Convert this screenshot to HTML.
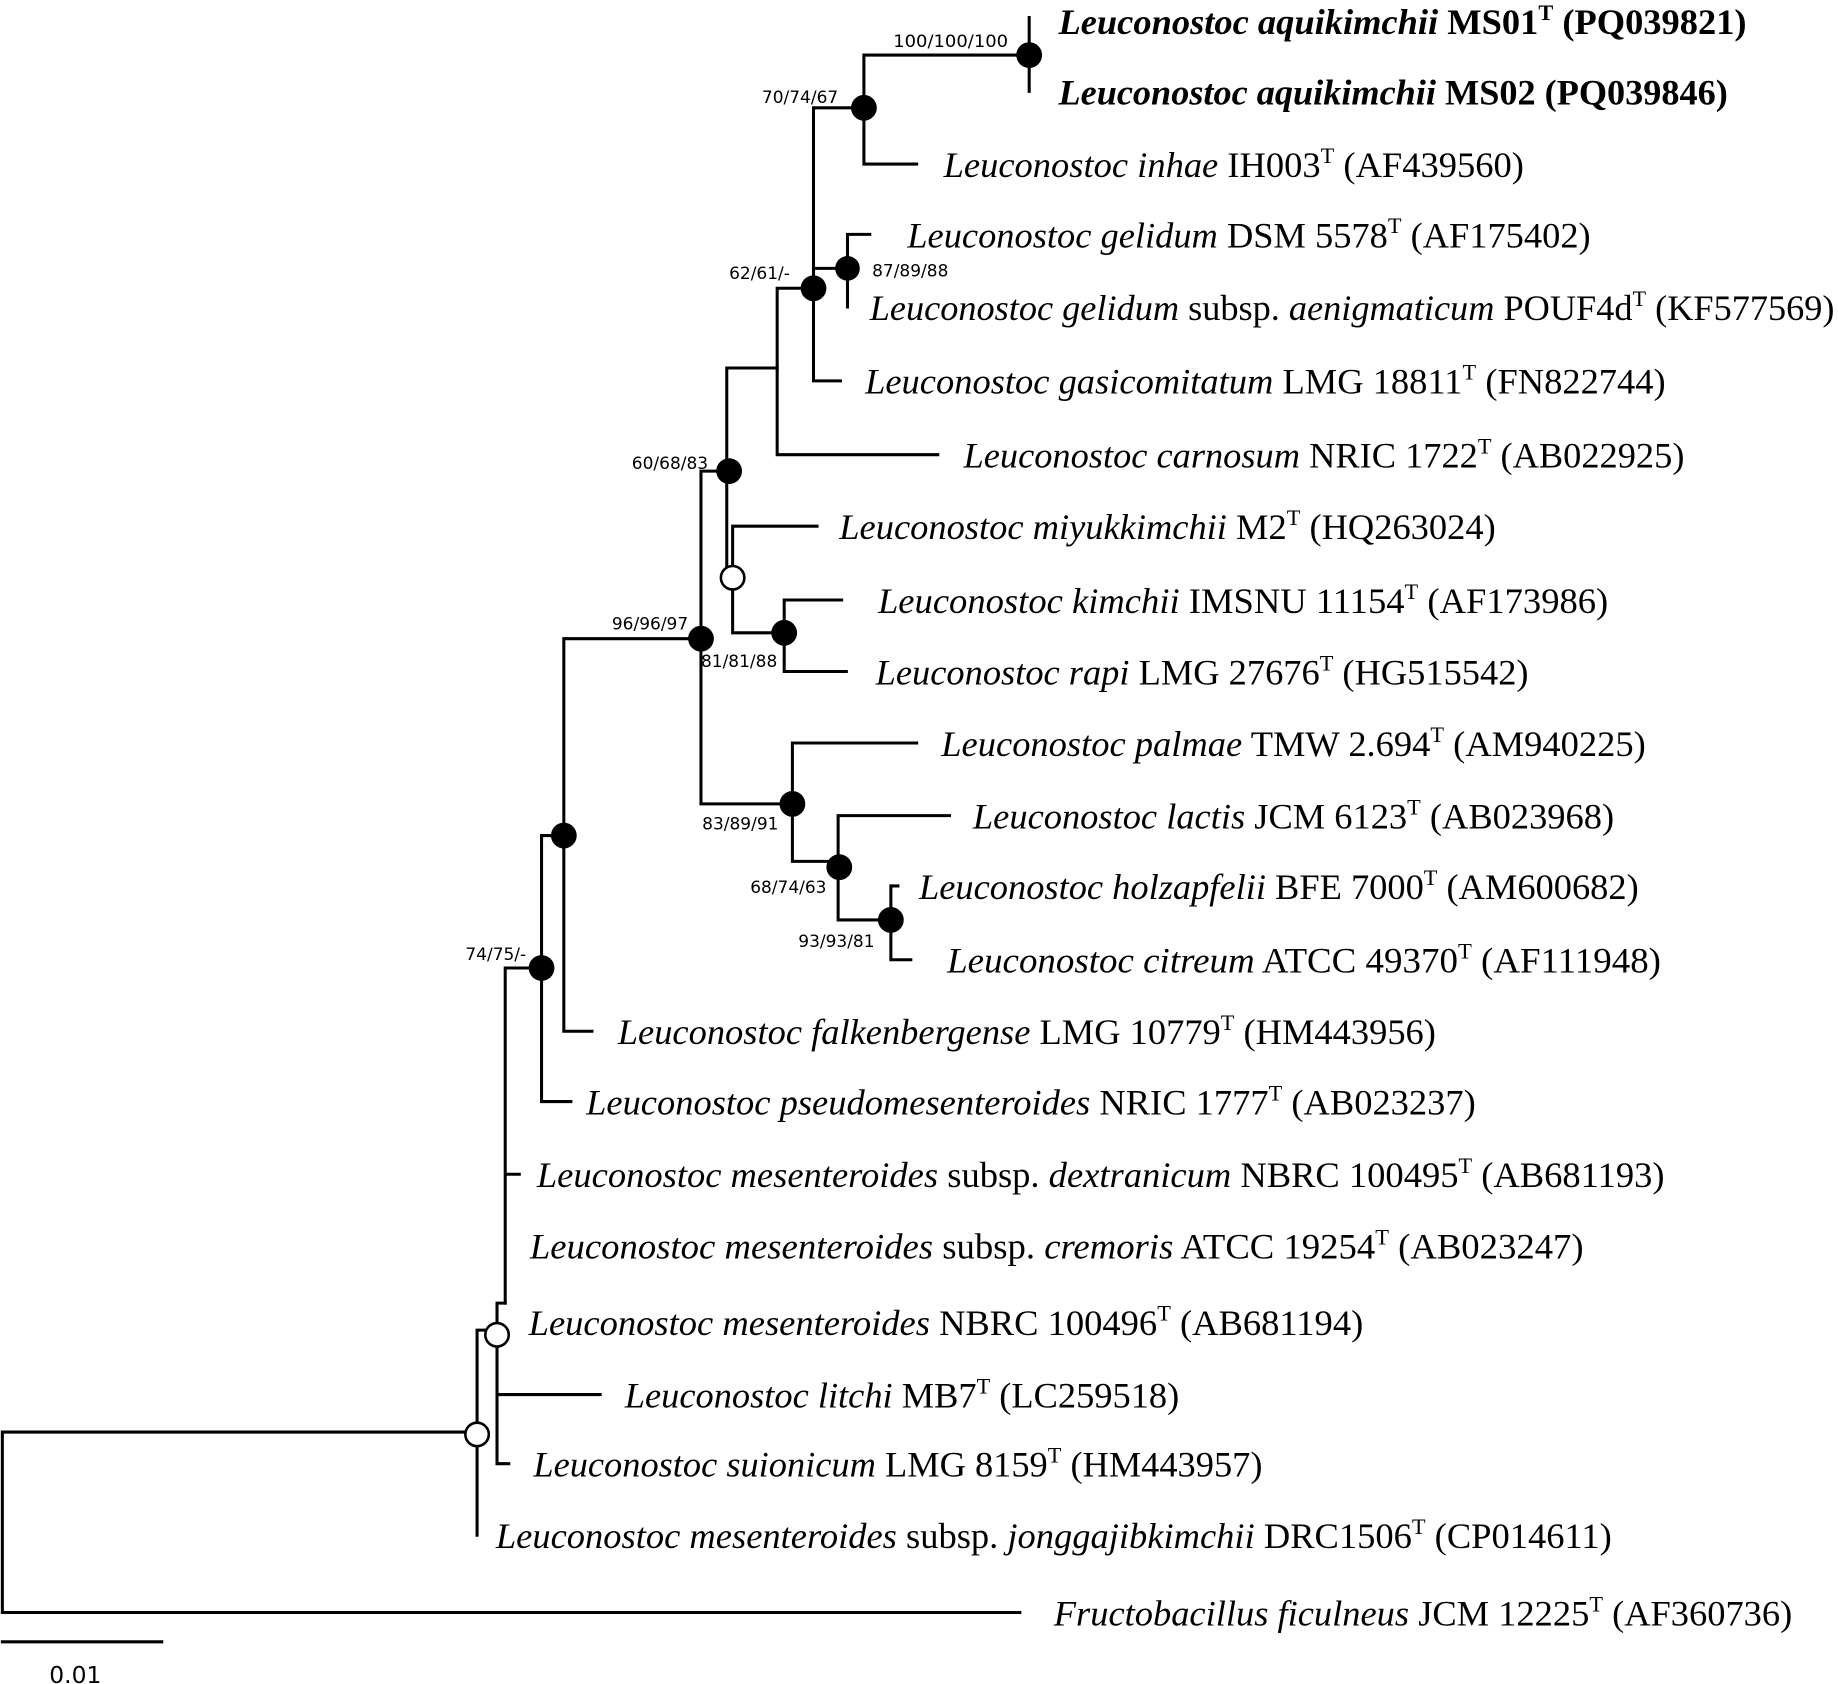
<!DOCTYPE html>
<html><head><meta charset="utf-8"><style>
html,body{margin:0;padding:0;background:#fff;}
svg{display:block}
.t{font-family:"Liberation Serif",serif;font-size:31px;fill:#000}
.b{font-weight:bold}
.s{font-family:"DejaVu Sans","Liberation Sans",sans-serif;font-size:14.5px;fill:#000}
</style></head><body>
<svg width="1838" height="1684" viewBox="0 0 1568 1437" preserveAspectRatio="none" xmlns="http://www.w3.org/2000/svg">
<g stroke="#000" stroke-width="2.6" fill="none" stroke-linecap="square">
<path d="M2 1222V1376M2 1222H407M2 1376H870"/>
<path d="M407 1135V1310M407 1135H424"/>
<path d="M424 1112V1249M424 1190H512M424 1249H434M424 1112H431"/>
<path d="M431 826V1112M431 1002H443M431 826H462"/>
<path d="M462 713V940M462 940H487M462 713H481"/>
<path d="M481 545V880M481 880H505M481 545H598"/>
<path d="M598 402V686M598 402H620M598 686H676"/>
<path d="M620 314V493M620 314H663M620 493H625"/>
<path d="M663 246V388M663 388H800M663 246H694"/>
<path d="M694 92V325M694 325H717M694 92H737M694 229H723"/>
<path d="M723 200V262M723 200H742"/>
<path d="M737 47V140M737 140H782M737 47H878"/>
<path d="M878 15V78"/>
<path d="M625 449V540M625 449H697M625 540H669"/>
<path d="M669 512V573M669 512H718M669 573H722"/>
<path d="M676 634V735M676 634H782M676 735H715"/>
<path d="M715 696V785M715 696H810M715 785H760"/>
<path d="M760 756V819M760 756H766M760 819H777"/>
<path d="M2 1401H138"/>
</g>
<g fill="#000">
<circle cx="878" cy="47" r="11"/>
<circle cx="737" cy="92" r="11"/>
<circle cx="723" cy="229" r="10.5"/>
<circle cx="694" cy="246" r="11"/>
<circle cx="622" cy="402" r="11"/>
<circle cx="598" cy="545" r="11"/>
<circle cx="669" cy="540" r="11"/>
<circle cx="676" cy="686" r="11"/>
<circle cx="716" cy="740" r="11"/>
<circle cx="760" cy="785" r="11"/>
<circle cx="481" cy="713" r="11"/>
<circle cx="462" cy="826" r="11"/>
</g>
<g fill="#fff" stroke="#000" stroke-width="2.2">
<circle cx="625" cy="493" r="10"/>
<circle cx="424" cy="1139" r="10"/>
<circle cx="407" cy="1224" r="10"/>
</g>
<g class="s">
<text x="762" y="40" textLength="98" lengthAdjust="spacingAndGlyphs">100/100/100</text>
<text x="650" y="88">70/74/67</text>
<text x="744" y="236">87/89/88</text>
<text x="622" y="238">62/61/-</text>
<text x="539" y="400">60/68/83</text>
<text x="522" y="537">96/96/97</text>
<text x="598" y="569">81/81/88</text>
<text x="599" y="708">83/89/91</text>
<text x="640" y="762">68/74/63</text>
<text x="681" y="808">93/93/81</text>
<text x="397" y="819">74/75/-</text>
<text x="42" y="1436" style="font-size:20px">0.01</text>
</g>
<g class="t">
<text class="b" x="903" y="29" textLength="587" lengthAdjust="spacingAndGlyphs"><tspan font-style="italic">Leuconostoc aquikimchii</tspan> MS01<tspan font-size="19" dy="-12">T</tspan><tspan dy="12"> (PQ039821)</tspan></text>
<text class="b" x="903" y="89" textLength="571" lengthAdjust="spacingAndGlyphs"><tspan font-style="italic">Leuconostoc aquikimchii</tspan> MS02 (PQ039846)</text>
<text x="805" y="151" textLength="495" lengthAdjust="spacingAndGlyphs"><tspan font-style="italic">Leuconostoc inhae</tspan> IH003<tspan font-size="19" dy="-12">T</tspan><tspan dy="12"> (AF439560)</tspan></text>
<text x="774" y="211" textLength="583" lengthAdjust="spacingAndGlyphs"><tspan font-style="italic">Leuconostoc gelidum</tspan> DSM 5578<tspan font-size="19" dy="-12">T</tspan><tspan dy="12"> (AF175402)</tspan></text>
<text x="742" y="273" textLength="823" lengthAdjust="spacingAndGlyphs"><tspan font-style="italic">Leuconostoc gelidum</tspan> subsp. <tspan font-style="italic">aenigmaticum</tspan> POUF4d<tspan font-size="19" dy="-12">T</tspan><tspan dy="12"> (KF577569)</tspan></text>
<text x="738" y="336" textLength="683" lengthAdjust="spacingAndGlyphs"><tspan font-style="italic">Leuconostoc gasicomitatum</tspan> LMG 18811<tspan font-size="19" dy="-12">T</tspan><tspan dy="12"> (FN822744)</tspan></text>
<text x="822" y="399" textLength="615" lengthAdjust="spacingAndGlyphs"><tspan font-style="italic">Leuconostoc carnosum</tspan> NRIC 1722<tspan font-size="19" dy="-12">T</tspan><tspan dy="12"> (AB022925)</tspan></text>
<text x="716" y="460" textLength="560" lengthAdjust="spacingAndGlyphs"><tspan font-style="italic">Leuconostoc miyukkimchii</tspan> M2<tspan font-size="19" dy="-12">T</tspan><tspan dy="12"> (HQ263024)</tspan></text>
<text x="749" y="523" textLength="623" lengthAdjust="spacingAndGlyphs"><tspan font-style="italic">Leuconostoc kimchii</tspan> IMSNU 11154<tspan font-size="19" dy="-12">T</tspan><tspan dy="12"> (AF173986)</tspan></text>
<text x="747" y="584" textLength="557" lengthAdjust="spacingAndGlyphs"><tspan font-style="italic">Leuconostoc rapi</tspan> LMG 27676<tspan font-size="19" dy="-12">T</tspan><tspan dy="12"> (HG515542)</tspan></text>
<text x="803" y="645" textLength="601" lengthAdjust="spacingAndGlyphs"><tspan font-style="italic">Leuconostoc palmae</tspan> TMW 2.694<tspan font-size="19" dy="-12">T</tspan><tspan dy="12"> (AM940225)</tspan></text>
<text x="830" y="707" textLength="547" lengthAdjust="spacingAndGlyphs"><tspan font-style="italic">Leuconostoc lactis</tspan> JCM 6123<tspan font-size="19" dy="-12">T</tspan><tspan dy="12"> (AB023968)</tspan></text>
<text x="784" y="767" textLength="614" lengthAdjust="spacingAndGlyphs"><tspan font-style="italic">Leuconostoc holzapfelii</tspan> BFE 7000<tspan font-size="19" dy="-12">T</tspan><tspan dy="12"> (AM600682)</tspan></text>
<text x="808" y="830" textLength="609" lengthAdjust="spacingAndGlyphs"><tspan font-style="italic">Leuconostoc citreum</tspan> ATCC 49370<tspan font-size="19" dy="-12">T</tspan><tspan dy="12"> (AF111948)</tspan></text>
<text x="527" y="891" textLength="698" lengthAdjust="spacingAndGlyphs"><tspan font-style="italic">Leuconostoc falkenbergense</tspan> LMG 10779<tspan font-size="19" dy="-12">T</tspan><tspan dy="12"> (HM443956)</tspan></text>
<text x="500" y="951" textLength="759" lengthAdjust="spacingAndGlyphs"><tspan font-style="italic">Leuconostoc pseudomesenteroides</tspan> NRIC 1777<tspan font-size="19" dy="-12">T</tspan><tspan dy="12"> (AB023237)</tspan></text>
<text x="458" y="1013" textLength="962" lengthAdjust="spacingAndGlyphs"><tspan font-style="italic">Leuconostoc mesenteroides</tspan> subsp. <tspan font-style="italic">dextranicum</tspan> NBRC 100495<tspan font-size="19" dy="-12">T</tspan><tspan dy="12"> (AB681193)</tspan></text>
<text x="452" y="1074" textLength="899" lengthAdjust="spacingAndGlyphs"><tspan font-style="italic">Leuconostoc mesenteroides</tspan> subsp. <tspan font-style="italic">cremoris</tspan> ATCC 19254<tspan font-size="19" dy="-12">T</tspan><tspan dy="12"> (AB023247)</tspan></text>
<text x="451" y="1139" textLength="712" lengthAdjust="spacingAndGlyphs"><tspan font-style="italic">Leuconostoc mesenteroides</tspan> NBRC 100496<tspan font-size="19" dy="-12">T</tspan><tspan dy="12"> (AB681194)</tspan></text>
<text x="533" y="1201" textLength="473" lengthAdjust="spacingAndGlyphs"><tspan font-style="italic">Leuconostoc litchi</tspan> MB7<tspan font-size="19" dy="-12">T</tspan><tspan dy="12"> (LC259518)</tspan></text>
<text x="455" y="1260" textLength="622" lengthAdjust="spacingAndGlyphs"><tspan font-style="italic">Leuconostoc suionicum</tspan> LMG 8159<tspan font-size="19" dy="-12">T</tspan><tspan dy="12"> (HM443957)</tspan></text>
<text x="423" y="1321" textLength="952" lengthAdjust="spacingAndGlyphs"><tspan font-style="italic">Leuconostoc mesenteroides</tspan> subsp. <tspan font-style="italic">jonggajibkimchii</tspan> DRC1506<tspan font-size="19" dy="-12">T</tspan><tspan dy="12"> (CP014611)</tspan></text>
<text x="899" y="1387" textLength="630" lengthAdjust="spacingAndGlyphs"><tspan font-style="italic">Fructobacillus ficulneus</tspan> JCM 12225<tspan font-size="19" dy="-12">T</tspan><tspan dy="12"> (AF360736)</tspan></text>
</g>
</svg>
</body></html>
